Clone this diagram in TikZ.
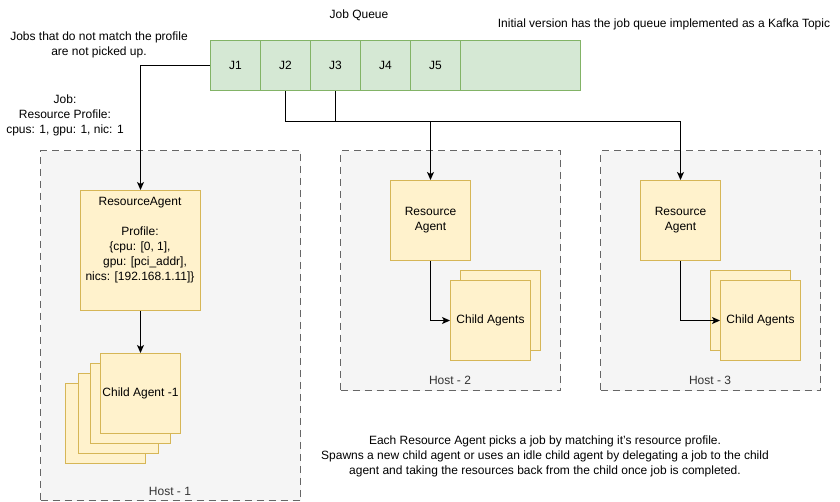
\documentclass[tikz,border=0pt]{standalone}
\usepackage{fontspec}
\setmainfont{Liberation Sans}
\usetikzlibrary{arrows.meta,positioning}
\definecolor{qfill}{HTML}{D5E8D4}
\definecolor{qline}{HTML}{82B366}
\definecolor{afill}{HTML}{FFF2CC}
\definecolor{aline}{HTML}{D6B656}
\definecolor{hfill}{HTML}{F5F5F5}
\definecolor{hline}{HTML}{666666}
\definecolor{htext}{HTML}{333333}
\tikzset{
  cell/.style={
    draw=qline,
    fill=qfill,
    line width=1pt,
    minimum width=50pt,
    minimum height=50pt,
    inner sep=0pt,
    anchor=north west
  },
  agent/.style={draw=aline, fill=afill, line width=1pt, minimum width=80pt, minimum height=80pt,
    inner sep=0pt, align=center, anchor=north west},
  hostframe/.style={draw=hline, fill=hfill, line width=1pt, dash pattern=on 7pt off 5pt,
    inner sep=0pt, anchor=north west},
  lbl/.style={align=center, inner sep=0pt},
  hostlbl/.style={text=htext, inner sep=0pt},
  arr/.style={-{Stealth[length=8pt,width=7pt,inset=2pt]}, line width=1pt},
}
\newcommand{\ChildBack}[1]{%
  \foreach \cx/\cy in {#1} {
    \node[agent] at (\cx,\cy) {};
  }
}

\begin{document}
\begin{tikzpicture}[x=1pt, y=-1pt, font=\fontsize{12}{15}\selectfont]
  \useasboundingbox (0,0) rectangle (840,501);
  % hosts
  \node[hostframe, minimum width=260pt, minimum height=350pt] (host1) at (40,150) {};
  \node[hostframe, minimum width=220pt, minimum height=240pt] (host2) at (340,150) {};
  \node[hostframe, minimum width=220pt, minimum height=240pt] (host3) at (600,150) {};
  \node[hostlbl] (h1lbl) at (170,491) {Host - 1};
  \node[hostlbl] (h2lbl) at (450,380) {Host - 2};
  \node[hostlbl] (h3lbl) at (710,380) {Host - 3};

  % job queue
  \foreach \j [count=\i] in {J1,J2,J3,J4,J5} {
    \node[cell] (q\i) at ({210+(\i-1)*50},40) {\j};
  }
  \node[cell, minimum width=120pt] (q6) at (460,40) {};
  \node[lbl] (qtitle) at (359,15) {Job Queue};
  \node[lbl] (kafka) at (664,24) {Initial version has the job queue implemented as a Kafka Topic};
  \node[lbl] (nomatch) at (99,45) {Jobs that do not match the profile\\are not picked up.};
  \node[lbl] (jobprof) at (65,115) {Job:\\Resource Profile:\\cpus: 1, gpu: 1, nic: 1};

  % host 1
  \node[agent, minimum width=120pt, minimum height=120pt] (ra1) at (80,190) {};
  \node[lbl, anchor=north] (ra1txt) at (140,197)
    {ResourceAgent\\[15pt]Profile:\\{\{}cpu: [0, 1],\\\hspace{10pt}gpu: [pci\_addr],\\nics: [192.168.1.11]\}};
  \ChildBack{65/383,78/373,90/363}
  \node[agent] (c1) at (100,353) {Child Agent -1};

  % host 2
  \node[agent] (ra2) at (390,180) {Resource\\Agent};
  \ChildBack{460/270}
  \node[agent] (c2) at (450,280) {Child Agents};

  % host 3
  \node[agent] (ra3) at (640,180) {Resource\\Agent};
  \ChildBack{710/270}
  \node[agent] (c3) at (720,280) {Child Agents};

  % connectors
  \draw[arr] (q1.west) -| (ra1.north);
  \draw[arr] (q2.south) -- ++(0,30) -| (ra2.north);
  \draw[arr] (q3.south) -- ++(0,30) -| (ra3.north);
  \draw[arr] (ra1.south) -- (c1.north);
  \draw[arr] (ra2.south) |- (c2.west);
  \draw[arr] (ra3.south) |- (c3.west);

  \node[lbl] (note) at (545,456) {Each Resource Agent picks a job by matching it's resource profile.\\Spawns a new child agent or uses an idle child agent by delegating a job to the child\\agent and taking the resources back from the child once job is completed.};
\end{tikzpicture}
\end{document}
